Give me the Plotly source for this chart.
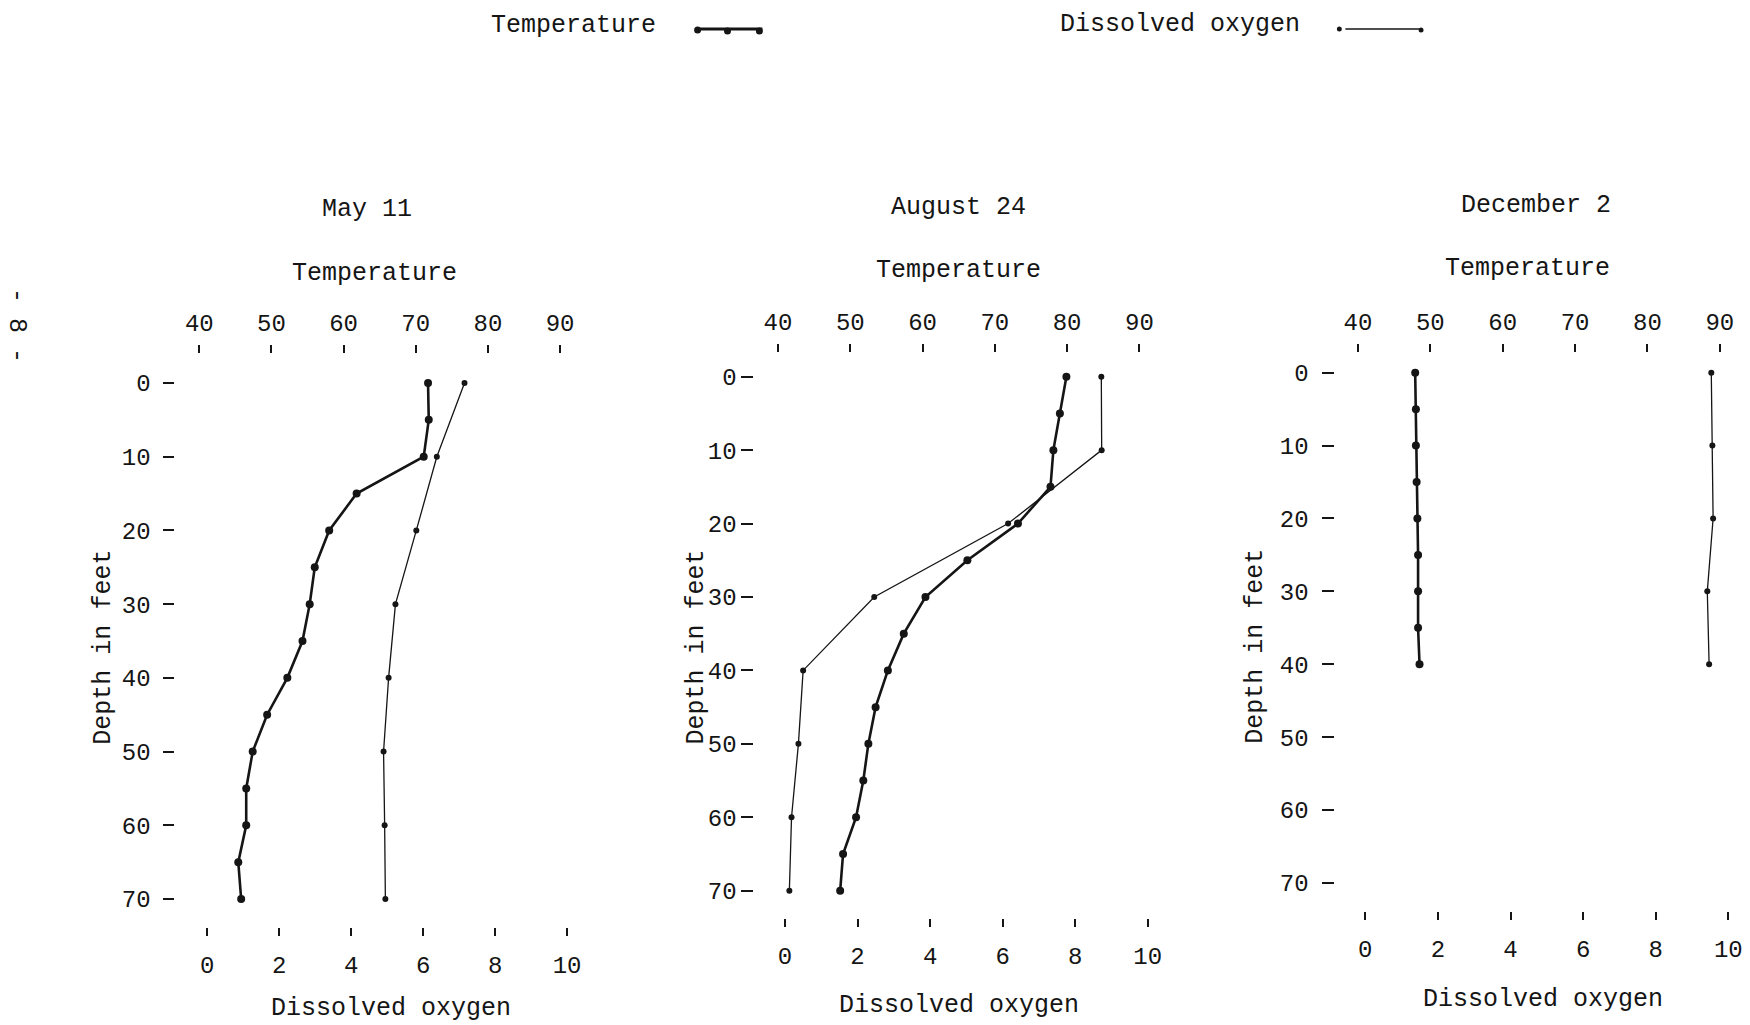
import plotly.graph_objects as go

# ---------------- data ----------------
temp_ticks = [40, 50, 60, 70, 80, 90]
do_ticks = [0, 2, 4, 6, 8, 10]
depth_ticks = [0, 10, 20, 30, 40, 50, 60, 70]

may_temp_depth = [0, 5, 10, 15, 20, 25, 30, 35, 40, 45, 50, 55, 60, 65, 70]
may_temp = [71.7, 71.8, 71.1, 61.8, 58.0, 56.0, 55.3, 54.3, 52.2, 49.4, 47.4, 46.5, 46.5, 45.4, 45.8]
may_do_depth = [0, 10, 20, 30, 40, 50, 60, 70]
may_do = [7.15, 6.38, 5.81, 5.23, 5.04, 4.90, 4.93, 4.95]

aug_temp_depth = [0, 5, 10, 15, 20, 25, 30, 35, 40, 45, 50, 55, 60, 65, 70]
aug_temp = [79.9, 79.0, 78.1, 77.7, 73.2, 66.2, 60.4, 57.4, 55.2, 53.5, 52.5, 51.8, 50.8, 49.0, 48.6]
aug_do_depth = [0, 10, 20, 30, 40, 50, 60, 70]
aug_do = [8.72, 8.73, 6.15, 2.46, 0.50, 0.37, 0.18, 0.12]

dec_temp_depth = [0, 5, 10, 15, 20, 25, 30, 35, 40]
dec_temp = [47.9, 48.0, 48.0, 48.1, 48.2, 48.3, 48.3, 48.3, 48.5]
dec_do_depth = [0, 10, 20, 30, 40]
dec_do = [9.53, 9.56, 9.58, 9.42, 9.47]

panel_titles = ["May 11", "August 24", "December 2"]

# ---------------- layout geometry (pixels) ----------------
W, H = 1750, 1025
INK = "#151515"
FONT = "Liberation Mono, Courier New, monospace"


def fx(p):
    return p / W


def fy(p):
    return 1 - p / H


def rng(v0, p0, v1, p1, pa, pb):
    s = (p1 - p0) / (v1 - v0)
    return [v0 + (pa - p0) / s, v0 + (pb - p0) / s]


panels = [
    dict(l=176, r=580, t=354, b=927, temp=(40, 200, 90, 562), do=(0, 208, 10, 569),
         dep=(0, 383, 70, 899), title_y=210, ttl_x=368, temp_ttl=(376, 273),
         do_ttl=(392, 1008), dep_ttl=(103, 647), ylen=11, ystand=8,
         T=(may_temp, may_temp_depth), D=(may_do, may_do_depth)),
    dict(l=757, r=1160, t=353, b=918, temp=(40, 780.7, 90, 1143.3), do=(0, 787.7, 10, 1151.7),
         dep=(0, 376.7, 70, 890.7), title_y=208, ttl_x=962, temp_ttl=(962, 270),
         do_ttl=(962, 1005), dep_ttl=(698, 647), ylen=12, ystand=0,
         T=(aug_temp, aug_temp_depth), D=(aug_do, aug_do_depth)),
    dict(l=1340, r=1745, t=353, b=911, temp=(40, 1362.7, 90, 1725.7), do=(0, 1370, 10, 1734.3),
         dep=(0, 372.7, 70, 882.9), title_y=206, ttl_x=1541, temp_ttl=(1533, 268),
         do_ttl=(1548, 999), dep_ttl=(1259, 646), ylen=12, ystand=9,
         T=(dec_temp, dec_temp_depth), D=(dec_do, dec_do_depth)),
]

fig = go.Figure()
layout = dict(width=W, height=H, autosize=False, margin=dict(l=0, r=0, t=0, b=0),
              paper_bgcolor="white", plot_bgcolor="white", showlegend=False,
              font=dict(family=FONT, color=INK, size=24))
annotations = []

for i, p in enumerate(panels):
    xdo = 2 * i + 1
    xtp = 2 * i + 2
    yk = i + 1
    xdo_name = "x" if xdo == 1 else f"x{xdo}"
    xtp_name = f"x{xtp}"
    y_name = "y" if yk == 1 else f"y{yk}"
    dom_x = [fx(p["l"]), fx(p["r"])]
    dom_y = [fy(p["b"]), fy(p["t"])]
    common = dict(showgrid=False, zeroline=False, showline=False, ticks="outside",
                  ticklen=8, tickwidth=2, tickcolor=INK,
                  tickfont=dict(family=FONT, size=24, color=INK))
    layout["xaxis" if xdo == 1 else f"xaxis{xdo}"] = dict(
        common, domain=dom_x, anchor=y_name, side="bottom",
        range=rng(*p["do"], p["l"], p["r"]), tickvals=do_ticks, ticklabelstandoff=8)
    layout[f"xaxis{xtp}"] = dict(
        common, domain=dom_x, anchor=y_name, side="top", overlaying=xdo_name,
        range=rng(*p["temp"], p["l"], p["r"]), tickvals=temp_ticks, ticklabelstandoff=4)
    layout["yaxis" if yk == 1 else f"yaxis{yk}"] = dict(
        common, domain=dom_y, anchor=xdo_name,
        range=rng(*p["dep"], p["b"], p["t"]), tickvals=depth_ticks,
        ticklen=p["ylen"], ticklabelstandoff=p["ystand"])

    tv, td = p["T"]
    dv, dd = p["D"]
    fig.add_trace(go.Scatter(x=tv, y=td, xaxis=xtp_name, yaxis=y_name, mode="lines+markers",
                             line=dict(color=INK, width=2.6), marker=dict(color=INK, size=8),
                             name="Temperature"))
    fig.add_trace(go.Scatter(x=dv, y=dd, xaxis=xdo_name, yaxis=y_name, mode="lines+markers",
                             line=dict(color=INK, width=1.3), marker=dict(color=INK, size=6),
                             name="Dissolved oxygen"))

    annotations += [
        dict(text=panel_titles[i], x=fx(p["ttl_x"]), y=fy(p["title_y"])),
        dict(text="Temperature", x=fx(p["temp_ttl"][0]), y=fy(p["temp_ttl"][1])),
        dict(text="Dissolved oxygen", x=fx(p["do_ttl"][0]), y=fy(p["do_ttl"][1])),
        dict(text="Depth in feet", x=fx(p["dep_ttl"][0]), y=fy(p["dep_ttl"][1]), textangle=-90),
    ]

# legend text and page number
annotations += [
    dict(text="Temperature", x=fx(575), y=fy(25)),
    dict(text="Dissolved oxygen", x=fx(1184), y=fy(24)),
    dict(text="- 8 -", x=fx(17), y=fy(326), textangle=90),
]
for a in annotations:
    a.update(xref="paper", yref="paper", showarrow=False, xanchor="center", yanchor="middle",
             font=dict(family=FONT, size=25, color=INK))
layout["annotations"] = annotations

# hand-drawn legend keys
shapes = []


def dot(cx, cy, r):
    return dict(type="circle", xref="paper", yref="paper", x0=fx(cx - r), x1=fx(cx + r),
                y0=fy(cy + r), y1=fy(cy - r), fillcolor=INK, line=dict(width=0))


shapes.append(dict(type="line", xref="paper", yref="paper", x0=fx(699), x1=fx(765),
                   y0=fy(29), y1=fy(29), line=dict(color=INK, width=3)))
shapes += [dot(700, 30, 3.5), dot(730, 31, 3.5), dot(762, 31, 3.5)]
shapes.append(dict(type="line", xref="paper", yref="paper", x0=fx(1350), x1=fx(1424),
                   y0=fy(29), y1=fy(29), line=dict(color=INK, width=1.5)))
shapes += [dot(1344, 29, 2.5), dot(1426, 30, 2.5)]
layout["shapes"] = shapes

fig.update_layout(**layout)
fig.write_html("out.html", config={"displayModeBar": False},
               post_script="document.body.style.margin='0';document.body.style.overflow='hidden';")
